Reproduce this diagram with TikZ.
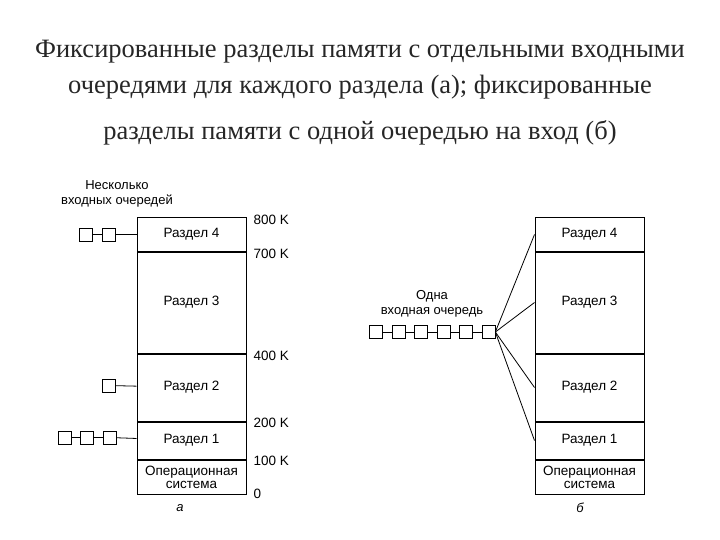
\documentclass[tikz,border=0pt]{standalone}
\usepackage{fontspec}
\setmainfont{Liberation Serif}
\setsansfont{Liberation Sans}
\usetikzlibrary{positioning}
\tikzset{part/.style={draw,rectangle,line width=1pt,minimum width=109pt,inner sep=0pt,
    font=\sffamily\fontsize{13.5}{15}\selectfont,align=center},
  qbox/.style={draw,line width=0.7pt,minimum size=13pt,inner sep=0pt},
  qline/.style={black,line width=0.8pt},
  addr/.style={anchor=west,inner sep=0pt,font=\sffamily\fontsize{13.5}{15}\selectfont},
  capt/.style={align=center,inner sep=0pt,font=\sffamily\fontsize{13}{15}\selectfont},
  title/.style={inner sep=0pt,text=black!85,font=\fontsize{26.5}{30}\selectfont},
  sub/.style={inner sep=0pt,font=\sffamily\itshape\fontsize{13}{15}\selectfont}}

\begin{document}
\begin{tikzpicture}[x=1pt,y=-1pt]
   \useasboundingbox (0,0) rectangle (720,540);
   \node[title] (t1) at (360,52) {Фиксированные разделы памяти с отдельными входными};
   \node[title] (t2) at (360,87) {очередями для каждого раздела (а); фиксированные};
   \node[title] (t3) at (360,133) {разделы памяти с одной очередью на вход (б)};
   % (a) separate queues
   \begin{scope}
    \node[part,minimum height=33pt] (a4) at (191.5,234.5) {Раздел 4};
    \node[part,minimum height=101pt,below=0pt of a4] (a3) {Раздел 3};
    \node[part,minimum height=67pt,below=0pt of a3] (a2) {Раздел 2};
    \node[part,minimum height=37pt,below=0pt of a2] (a1) {Раздел 1};
    \node[part,minimum height=34pt,below=0pt of a1] (a0) {Операционная\\[-2pt]система};
    \node[addr] at ([xshift=7pt,yshift=-2pt]a4.north east) {800 K};
    \node[addr] at ([xshift=7pt,yshift=-2pt]a4.south east) {700 K};
    \node[addr] at ([xshift=7pt,yshift=-2pt]a3.south east) {400 K};
    \node[addr] at ([xshift=7pt,yshift=-1pt]a2.south east) {200 K};
    \node[addr] at ([xshift=7pt,yshift=-1pt]a1.south east) {100 K};
    \node[addr] at ([xshift=7pt,yshift=1pt]a0.south east) {0};
    \node[capt] (many) at (117,194) {Несколько\\входных очередей};
    \node[qbox] (qd1) at (85.5,234.5) {};
    \node[qbox,right=10pt of qd1] (qd2) {};
    \draw[qline] (qd1) -- (qd2);
    \draw[qline] (qd2) -- (a4);
    \node[qbox] (qc1) at (109,385.5) {};
    \draw[qline] (qc1) -- (a2);
    \node[qbox] (qa1) at (64.5,437.5) {};
    \node[qbox,right=9pt of qa1] (qa2) {};
    \node[qbox,right=9pt of qa2] (qa3) {};
    \draw[qline] (qa1) -- (qa2);
    \draw[qline] (qa2) -- (qa3);
    \draw[qline] (qa3) -- (a1);
    \node[sub] at (180,508) {а};
   \end{scope}
   % (b) one queue
   \begin{scope}[xshift=398pt]
    \node[part,minimum height=33pt] (b4) at (191.5,234.5) {Раздел 4};
    \node[part,minimum height=101pt,below=0pt of b4] (b3) {Раздел 3};
    \node[part,minimum height=67pt,below=0pt of b3] (b2) {Раздел 2};
    \node[part,minimum height=37pt,below=0pt of b2] (b1) {Раздел 1};
    \node[part,minimum height=34pt,below=0pt of b1] (b0) {Операционная\\[-2pt]система};
    \node[sub] at (182,508) {б};
   \end{scope}
   \node[capt] (one) at (432,304) {Одна\\входная очередь};
   \node[qbox] (qb1) at (376,332) {};
   \node[qbox,right=8.8pt of qb1] (qb2) {};
   \node[qbox,right=8.8pt of qb2] (qb3) {};
   \node[qbox,right=8.8pt of qb3] (qb4) {};
   \node[qbox,right=8.8pt of qb4] (qb5) {};
   \node[qbox,right=8.8pt of qb5] (qb6) {};
   \draw[qline] (qb1) -- (qb2);
   \draw[qline] (qb2) -- (qb3);
   \draw[qline] (qb3) -- (qb4);
   \draw[qline] (qb4) -- (qb5);
   \draw[qline] (qb5) -- (qb6);
   \draw[qline] (qb6.east) -- (b4.west);
   \draw[qline] (qb6.east) -- (b3.west);
   \draw[qline] (qb6.east) -- (b2.west);
   \draw[qline] (qb6.east) -- (b1.west);
  \end{tikzpicture}
\end{document}
